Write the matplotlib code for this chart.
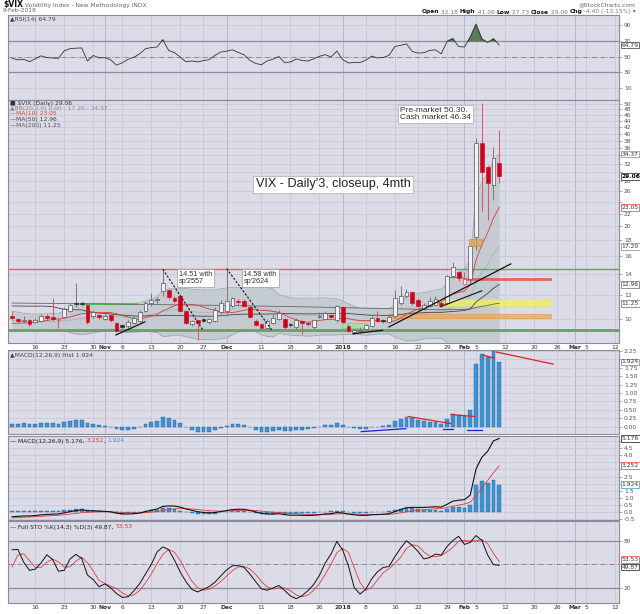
import matplotlib
matplotlib.use('Agg')
import matplotlib.pyplot as plt
import matplotlib.transforms as mtransforms
from matplotlib.patches import Rectangle
from matplotlib.ticker import FixedLocator, NullLocator
import numpy as np
import pandas as pd

plt.rcParams['font.family'] = ['DejaVu Sans']

# trading calendar (window + empty space to the right)
holidays = ['2017-11-23', '2017-12-25', '2018-01-01', '2018-01-15', '2018-02-19']
days = pd.bdate_range('2017-10-10', '2018-03-13', freq='C', holidays=holidays)

tick_dates = ['2017-10-16', '2017-10-23', '2017-10-30', '2017-11-01', '2017-11-06',
              '2017-11-13', '2017-11-20', '2017-11-27', '2017-12-01', '2017-12-11',
              '2017-12-18', '2017-12-26', '2018-01-02', '2018-01-08', '2018-01-16',
              '2018-01-22', '2018-01-29', '2018-02-01', '2018-02-05', '2018-02-12',
              '2018-02-20', '2018-02-26', '2018-03-01', '2018-03-05', '2018-03-12']
tick_labels = ['16', '23', '30', 'Nov', '6', '13', '20', '27', 'Dec', '11', '18', '26',
               '2018', '8', '16', '22', '29', 'Feb', '5', '12', '20', '26', 'Mar', '5', '12']
month_labels = {'Nov', 'Dec', '2018', 'Feb', 'Mar'}

# closes before the window, only used to warm up the indicators (31 Jul - 9 Oct 2017)
hist_close = [10.26, 10.09, 10.28, 9.95, 10.03, 9.93, 10.96, 11.11, 16.04, 15.51,
              12.33, 12.04, 11.74, 15.55, 14.26, 13.19, 11.35, 12.25, 11.78, 11.28,
              11.32, 11.70, 11.22, 10.59, 10.13, 12.23, 11.63, 11.55, 12.12, 10.73,
              10.58, 10.50, 10.44, 10.17, 10.15, 10.18, 9.78, 9.67, 9.59, 10.21,
              10.17, 9.87, 9.55, 9.51, 9.45, 9.51, 9.63, 9.19, 9.65, 10.33]

# daily candles, 10 Oct 2017 - 9 Feb 2018
opens = [10.25, 9.98, 9.82, 9.95, 9.80, 9.82, 10.25, 10.15, 9.95, 10.15,
         10.60, 11.25, 11.25, 11.10, 10.25, 10.30, 9.98, 10.30, 9.73, 9.55,
         9.45, 9.70, 9.85, 10.60, 11.30, 11.50, 12.30, 12.40, 11.70, 11.90,
         10.60, 9.60, 9.90, 10.00, 9.75, 9.85, 10.50, 10.65, 11.00, 11.45,
         11.40, 10.95, 9.85, 9.60, 9.37, 9.73, 9.98, 9.98, 9.60, 9.40,
         9.85, 9.70, 9.40, 10.15, 10.00, 10.30, 9.90, 10.90, 9.50, 9.10,
         9.15, 9.25, 9.50, 10.10, 9.90, 9.75, 10.20, 11.30, 11.90, 12.20,
         11.50, 10.80, 11.05, 11.10, 11.30, 11.30, 13.80, 14.20, 13.00, 13.50,
         18.44, 37.20, 31.10, 27.30, 32.18]
highs = [10.60, 10.05, 10.20, 10.00, 10.10, 10.40, 10.35, 11.70, 10.10, 10.95,
         11.30, 13.10, 11.40, 11.20, 10.70, 10.40, 10.40, 10.40, 9.80, 9.60,
         9.95, 10.20, 10.70, 11.40, 12.10, 11.80, 14.51, 12.50, 11.90, 12.00,
         10.70, 9.95, 9.95, 10.10, 10.10, 10.90, 11.50, 14.58, 11.80, 11.60,
         11.60, 11.10, 10.00, 9.70, 10.00, 10.35, 10.70, 10.10, 9.70, 10.10,
         9.95, 9.80, 9.95, 10.50, 10.60, 10.40, 11.10, 11.00, 9.60, 9.30,
         9.40, 9.60, 10.20, 10.60, 10.00, 10.30, 12.40, 12.80, 12.50, 12.30,
         11.70, 11.30, 11.80, 11.90, 11.40, 13.90, 15.30, 14.30, 14.20, 17.40,
         38.80, 50.30, 31.60, 36.17, 41.06]
lows = [9.90, 9.75, 9.70, 9.50, 9.70, 9.75, 9.90, 9.85, 9.35, 10.05,
        10.50, 10.90, 11.00, 9.60, 10.10, 10.00, 9.90, 9.75, 9.10, 9.25,
        9.35, 9.60, 9.80, 10.50, 11.00, 11.30, 11.90, 11.60, 11.30, 10.50,
        9.65, 9.50, 8.56, 9.75, 9.60, 9.80, 10.40, 10.40, 10.90, 11.10,
        10.90, 10.05, 9.45, 9.30, 9.30, 9.60, 9.90, 9.30, 9.40, 9.30,
        8.95, 9.50, 9.30, 10.05, 9.90, 10.10, 9.80, 9.70, 9.05, 8.92,
        9.00, 9.20, 9.40, 9.75, 9.70, 9.70, 10.10, 11.10, 11.70, 11.10,
        10.90, 10.70, 10.90, 11.00, 10.90, 11.20, 13.60, 13.30, 12.90, 13.30,
        16.80, 22.42, 20.90, 24.30, 27.73]
closes = [10.05, 9.85, 9.91, 9.61, 9.91, 10.25, 10.05, 10.00, 9.97, 10.80,
          11.10, 11.16, 11.20, 9.80, 10.50, 10.18, 10.20, 9.93, 9.14, 9.40,
          9.80, 10.05, 10.50, 11.29, 11.50, 11.59, 13.13, 11.76, 11.43, 10.65,
          9.73, 9.88, 9.67, 9.87, 10.03, 10.70, 11.28, 11.43, 11.68, 11.33,
          11.02, 10.16, 9.58, 9.34, 9.85, 10.10, 10.49, 9.42, 9.53, 9.95,
          9.72, 9.62, 9.90, 10.25, 10.47, 10.18, 11.04, 9.77, 9.15, 9.22,
          9.22, 9.52, 10.08, 9.82, 9.88, 10.16, 11.66, 11.91, 12.22, 11.27,
          11.03, 11.10, 11.47, 11.58, 11.08, 13.84, 14.79, 13.54, 13.47, 17.31,
          37.32, 29.98, 27.73, 33.46, 29.06]
# 200-day MA (no 200-day history here)
ma200 = [11.26, 11.26, 11.25, 11.25, 11.24, 11.24, 11.23, 11.23, 11.22, 11.22,
         11.21, 11.21, 11.20, 11.20, 11.19, 11.19, 11.18, 11.18, 11.17, 11.16,
         11.16, 11.15, 11.15, 11.14, 11.14, 11.13, 11.13, 11.12, 11.11, 11.11,
         11.10, 11.09, 11.09, 11.08, 11.08, 11.07, 11.07, 11.06, 11.05, 11.05,
         11.04, 11.03, 11.02, 11.01, 11.00, 10.99, 10.98, 10.97, 10.97, 10.96,
         10.95, 10.94, 10.93, 10.92, 10.91, 10.90, 10.89, 10.88, 10.87, 10.86,
         10.85, 10.84, 10.83, 10.82, 10.81, 10.80, 10.79, 10.78, 10.77, 10.76,
         10.75, 10.74, 10.73, 10.72, 10.71, 10.72, 10.73, 10.73, 10.74, 10.77,
         10.89, 10.98, 11.06, 11.17, 11.25]

# ---- indicators -------------------------------------------------------------
n_hist = len(hist_close)
x = np.arange(len(closes))
c_all = pd.Series(hist_close + closes)
h_all = pd.Series(hist_close + highs)
l_all = pd.Series(hist_close + lows)

def win(s):
    return s.iloc[n_hist:].to_numpy()

ma10 = win(c_all.rolling(10).mean())
ma50 = win(c_all.rolling(50).mean())
mid20 = c_all.rolling(20).mean()
sd20 = c_all.rolling(20).std(ddof=0)
bb_up = win(mid20 + 2 * sd20)
bb_lo = win(mid20 - 2 * sd20)
bb_mid = win(mid20)

ema12 = c_all.ewm(span=12, adjust=False).mean()
ema26 = c_all.ewm(span=26, adjust=False).mean()
macd_all = ema12 - ema26
sig_all = macd_all.ewm(span=9, adjust=False).mean()
macd = win(macd_all)
signal = win(sig_all)
mhist = macd - signal

delta = c_all.diff()
gain = delta.clip(lower=0).ewm(alpha=1 / 14, adjust=False).mean()
loss = (-delta.clip(upper=0)).ewm(alpha=1 / 14, adjust=False).mean()
rsi = win(100 - 100 / (1 + gain / loss))

hh = h_all.rolling(14).max()
ll = l_all.rolling(14).min()
fast_k = 100 * (c_all - ll) / (hh - ll)
full_k = fast_k.rolling(3).mean()
sto_k = win(full_k)
sto_d = win(full_k.rolling(3).mean())

# ---- figure ---------------------------------------------------------------
W, H = 640, 614
fig = plt.figure(figsize=(W / 100, H / 100), dpi=100)
fig.patch.set_facecolor('white')

BG = '#dcdce8'
GRID = '#c4c4d4'
MGRID = '#a8a8bc'
RED = '#d0021b'
DARK = '#222222'
BLUE = '#3d93d2'
XMIN, XMAX = -0.7, 104.65
tick_pos = [days.get_loc(pd.Timestamp(d)) for d in tick_dates]


def panel(top, bottom):
    ax = fig.add_axes([8 / W, 1 - bottom / H, 611 / W, (bottom - top) / H])
    ax.set_facecolor(BG)
    ax.set_xlim(XMIN, XMAX)
    for s in ax.spines.values():
        s.set_color('#8a8a9c')
        s.set_linewidth(0.8)
    ax.yaxis.tick_right()
    ax.tick_params(axis='y', which='both', direction='out', length=2, width=0.4,
                   pad=1.5, labelsize=4.3, colors='#777', labelcolor='#555')
    ax.tick_params(axis='x', length=0, labelsize=4.3, pad=1.5, labelcolor='#333')
    ax.set_xticks(tick_pos)
    ax.set_xticklabels([])
    for p, lab in zip(tick_pos, tick_labels):
        ax.axvline(p, color=MGRID if lab in month_labels else GRID, lw=0.5, zorder=0)
    return ax


def hgrid(ax, vals, color=GRID, lw=0.5, ls='-'):
    for v in vals:
        ax.axhline(v, color=color, lw=lw, ls=ls, zorder=0.5)


def ylabels(ax, ticks, fmt, hidden=()):
    ax.set_yticks(ticks)
    ax.set_yticklabels(['' if v in hidden else fmt % v for v in ticks])


def xlabels(ax):
    ax.set_xticklabels(tick_labels)
    for t in ax.get_xticklabels():
        if t.get_text() in month_labels:
            t.set_fontweight('bold')


ax_rsi = panel(15, 100)
ax_px = panel(100, 343)
ax_hist = panel(350, 434)
ax_macd = panel(436, 520)
ax_sto = panel(521, 603)
xlabels(ax_px)
xlabels(ax_sto)


def rbox(ax, val, txt, ec, tc='#333', bold=False, dy=0):
    # dy: small shift in pixels (positive = up) to keep touching boxes apart
    tr = mtransforms.blended_transform_factory(ax.transAxes, ax.transData)
    tr = tr + mtransforms.ScaledTranslation(0, dy / 100, fig.dpi_scale_trans)
    ax.text(1.004, val, txt, transform=tr, fontsize=4.3, color=tc, va='center', ha='left',
            fontweight='bold' if bold else 'normal', zorder=10, clip_on=False,
            bbox=dict(boxstyle='square,pad=0.15', fc='white', ec=ec, lw=0.5))


def run(x_px, y_px, pieces, ha='left', size=4.3):
    r = fig.canvas.get_renderer()
    ts = []
    for s, c, extra in pieces:
        props = dict(fontsize=size, va='center', color=c)
        props.update(extra)
        ts.append(fig.text(0, 1 - y_px / H, s, **props))
    widths = [t.get_window_extent(r).width for t in ts]
    pos = x_px - sum(widths) if ha == 'right' else x_px
    for t, w in zip(ts, widths):
        t.set_x(pos / W)
        pos += w


# ---- RSI --------------------------------------------------------------------
ax_rsi.set_ylim(-5, 103)
ylabels(ax_rsi, [10, 30, 50, 70, 90], '%d')
hgrid(ax_rsi, [10, 90])
hgrid(ax_rsi, [30, 70], color='#8c8ca0', lw=0.9)
hgrid(ax_rsi, [50], color='#7c7c8c', lw=0.6, ls='-.')
ax_rsi.fill_between(x, rsi, 70, where=rsi > 70, interpolate=True, color='#5e7a5c', zorder=2)
ax_rsi.plot(x, rsi, color='#333', lw=0.6, zorder=3)
rbox(ax_rsi, 64.79, '64.79', '#333')

# ---- price ------------------------------------------------------------------
ax_px.set_yscale('log')
ax_px.set_ylim(8.35, 51.5)
pticks = list(range(10, 52, 2))
ax_px.yaxis.set_major_locator(FixedLocator(pticks))
ax_px.yaxis.set_minor_locator(NullLocator())
ax_px.set_yticklabels(['' if v in (24, 30, 34) else str(v) for v in pticks])
hgrid(ax_px, pticks)

ax_px.fill_between(x, np.clip(bb_lo, 1, None), bb_up, color='#c2cacf', alpha=0.9, lw=0, zorder=1)
ax_px.plot(x, bb_up, color='#9aa4aa', lw=0.5, zorder=1.5)
ax_px.plot(x, bb_lo, color='#9aa4aa', lw=0.5, zorder=1.5)
ax_px.plot(x, bb_mid, color='#a8b2b8', lw=0.5, zorder=1.5)

# drawn levels / zones
ax_px.hlines(14.5, XMIN, 75.5, color='#e06666', lw=1.0, zorder=2)
ax_px.hlines(14.5, 75.5, XMAX, color='#6f9a72', lw=1.0, zorder=2)
ax_px.hlines(9.2, XMIN, XMAX, color='#6f9a72', lw=2.0, zorder=2)
ax_px.hlines(11.17, 12.1, 21.7, color='#3ddc3d', lw=1.5, zorder=2)
ax_px.add_patch(Rectangle((73.8, 11.03), 19.2, 0.59, fc='#f2f25a', ec='#e0e060', alpha=0.75, lw=0.5, zorder=2))
ax_px.add_patch(Rectangle((64.8, 10.08), 28.2, 0.30, fc='#f0a850', ec='#e09040', alpha=0.75, lw=0.5, zorder=2))
ax_px.add_patch(Rectangle((77.8, 13.40), 15.2, 0.22, fc='#e85050', ec='#e85050', alpha=0.85, lw=0.5, zorder=2))
ax_px.hlines(13.68, 74.8, 77.8, color='#e85050', lw=0.8, zorder=2)
ax_px.add_patch(Rectangle((78.8, 17.2), 2.2, 1.05, fc='#e0a050', ec='#c08040', alpha=0.75, lw=0.5, zorder=6))
ax_px.add_patch(Rectangle((56.9, 9.34), 4.3, 0.36, fc='#9ee69e', ec='#70c070', alpha=0.7, lw=0.5, zorder=2))
ax_px.plot([26, 32.9], [14.51, 9.2], color='#111', lw=0.8, ls=(0, (2, 1.5)), zorder=6)
ax_px.plot([37, 44.8], [14.58, 9.2], color='#111', lw=0.8, ls=(0, (2, 1.5)), zorder=6)
ax_px.plot([17.9, 22.9], [8.87, 9.78], color='#111', lw=0.9, zorder=6)
ax_px.plot([58.8, 63.9], [8.95, 9.18], color='#111', lw=0.9, zorder=6)
ax_px.plot([65.0, 86.0], [9.42, 15.1], color='#111', lw=0.9, zorder=6)
ax_px.plot([73.8, 81.0], [10.94, 12.34], color='#111', lw=0.8, zorder=6)

ax_px.plot(x, ma200, color='#666', lw=0.6, zorder=3)
ax_px.plot(x, ma50, color='#444', lw=0.6, zorder=3)
ax_px.plot(x, ma10, color='#e03a3a', lw=0.6, zorder=3)

# candles
prev = [hist_close[-1]] + closes[:-1]
for i in x:
    o, h, l, c = opens[i], highs[i], lows[i], closes[i]
    down = c < prev[i]
    col = RED if down else DARK
    wick = '#e05060' if down else '#777'
    ax_px.vlines(i, l, h, color=wick, lw=0.7, zorder=4)
    lo_b, hi_b = min(o, c), max(o, c)
    if hi_b - lo_b < 0.03:
        hi_b = lo_b + 0.03
    if c < o:
        ax_px.bar(i, hi_b - lo_b, bottom=lo_b, width=0.66, color=col, edgecolor=col, lw=0.4, zorder=5)
    else:
        ax_px.bar(i, hi_b - lo_b, bottom=lo_b, width=0.66, color='#f1f1f6',
                  edgecolor='#e05060' if down else '#555', lw=0.5, zorder=5)

tbox = dict(boxstyle='square,pad=0.25', fc='white', ec='#999', lw=0.5)
ax_px.text(28.8, 13.6, "14.51 with\nsp'2557", fontsize=5.2, family='Liberation Sans', color='#333',
           va='center', ha='left', linespacing=1.0, bbox=tbox, zorder=7)
ax_px.text(39.9, 13.6, "14.58 with\nsp'2624", fontsize=5.2, family='Liberation Sans', color='#333',
           va='center', ha='left', linespacing=1.0, bbox=tbox, zorder=7)
ax_px.text(55.4, 27.4, "VIX - Daily'3, closeup, 4mth", fontsize=9.1, family='Liberation Sans',
           color='#222', va='center', ha='center', zorder=7,
           bbox=dict(boxstyle='square,pad=0.2', fc='white', ec='#aaa', lw=0.5))
ax_px.text(66.9, 46.3, "Pre-market 50.30.\nCash market 46.34", fontsize=6, family='Liberation Sans',
           color='#333', va='center', ha='left', linespacing=1.1, zorder=7,
           bbox=dict(boxstyle='square,pad=0.2', fc='white', ec='#aaa', lw=0.5))

for v, t, ec in [(34.37, '34.37', '#888'), (23.05, '23.05', '#e03a3a'), (17.20, '17.20', '#888'),
                 (12.96, '12.96', '#666'), (11.25, '11.25', '#666')]:
    rbox(ax_px, v, t, ec)
rbox(ax_px, 29.06, '29.06', '#111', tc='#000', bold=True)

# ---- MACD histogram ---------------------------------------------------------
ax_hist.set_ylim(-0.22, 2.28)
hticks = [0, 0.25, 0.5, 0.75, 1.0, 1.25, 1.5, 1.75, 2.0, 2.25]
ylabels(ax_hist, hticks, '%.2f', hidden=(2.0,))
hgrid(ax_hist, hticks)
ax_hist.bar(x, mhist, width=0.66, color=BLUE, edgecolor='#23689c', lw=0.3, zorder=3)
for (x0, y0), (x1, y1), col in [((83.5, 2.22), (93.3, 1.86), '#e02020'),
                                ((81.2, 2.13), (83.1, 2.04), '#e02020'),
                                ((68.3, 0.30), (75.7, 0.09), '#e02020'),
                                ((75.7, 0.36), (79.8, 0.30), '#e02020'),
                                ((60.2, -0.15), (67.9, -0.06), '#2020e0'),
                                ((74.3, -0.06), (76.0, -0.06), '#2020e0'),
                                ((78.4, -0.09), (81.0, -0.09), '#2020e0')]:
    ax_hist.plot([x0, x1], [y0, y1], color=col, lw=0.9, zorder=4)
rbox(ax_hist, 1.924, '1.924', BLUE)

# ---- MACD -------------------------------------------------------------------
ax_macd.set_ylim(-0.56, 5.35)
mticks = [-0.5, 0, 0.5, 1.0, 1.5, 2.0, 2.5, 3.0, 3.5, 4.0, 4.5, 5.0]
ylabels(ax_macd, mticks, '%.1f', hidden=(5.0, 3.5, 3.0, 2.0))
hgrid(ax_macd, mticks)
ax_macd.bar(x, mhist, width=0.66, color=BLUE, edgecolor='#23689c', lw=0.3, zorder=2)
ax_macd.plot(x, signal, color='#e03a3a', lw=0.6, zorder=3)
ax_macd.plot(x, macd, color='#111', lw=0.8, zorder=4)
rbox(ax_macd, 5.176, '5.176', '#111')
rbox(ax_macd, 3.252, '3.252', '#e03a3a')
rbox(ax_macd, 1.924, '1.924', BLUE)

# ---- Full stochastics -------------------------------------------------------
ax_sto.set_ylim(0.8, 105.5)
ylabels(ax_sto, [20, 80], '%d')
hgrid(ax_sto, [20, 80], color='#8c8ca0', lw=0.9)
hgrid(ax_sto, [50], color='#7c7c8c', lw=0.6, ls='-.')
ax_sto.plot(x, sto_d, color='#e03a3a', lw=0.6, zorder=3)
ax_sto.plot(x, sto_k, color='#111', lw=0.7, zorder=4)
rbox(ax_sto, 53.53, '53.53', '#e03a3a', dy=2.5)
rbox(ax_sto, 49.87, '49.87', '#111', dy=-2.5)

# ---- texts ------------------------------------------------------------------
run(3, 5, [('\\$VIX', '#111', dict(fontweight='bold', fontsize=5.5)),
           (' Volatility Index - New Methodology INDX', '#666', {})])
run(3, 11, [('9-Feb-2018', '#666', {})])
run(636, 5, [('@StockCharts.com', '#666', {})], ha='right')
hdr = []
for k, v in [('Open', ' 32.18 '), ('High', ' 41.06 '), ('Low', ' 27.73 '),
             ('Close', ' 29.06 '), ('Chg', ' -4.40 (-13.15%) \u25be')]:
    hdr.append((k, '#111', dict(fontweight='bold')))
    hdr.append((v, '#777', {}))
run(636, 12, hdr, ha='right')

run(10, 19, [('\u25b2RSI(14) 64.79', '#444', {})])
run(10, 103, [('\u25a0 \\$VIX (Daily) 29.06', '#333', {})])
run(10, 108.5, [('\u25b2BB(20,2.0) 0.00 - 17.20 - 34.37', '#888', {})])
run(10, 114, [('\u2014MA(10) 23.05', '#e03a3a', {})])
run(10, 119.5, [('\u2014MA(50) 12.96', '#444', {})])
run(10, 125, [('\u2014MA(200) 11.25', '#555', {})])
run(10, 355, [('\u25b2MACD(12,26,9) Hist 1.924', '#444', {})])
run(10, 441, [('\u2014 MACD(12,26,9) 5.176, ', '#222', {}), ('3.252', '#e03a3a', {}),
              (', ', '#222', {}), ('1.924', BLUE, {})])
run(10, 527, [('\u2014 Full STO %K(14,3) %D(3) 49.87, ', '#222', {}), ('53.53', '#e03a3a', {})])

fig.savefig('out.png', dpi=100)
